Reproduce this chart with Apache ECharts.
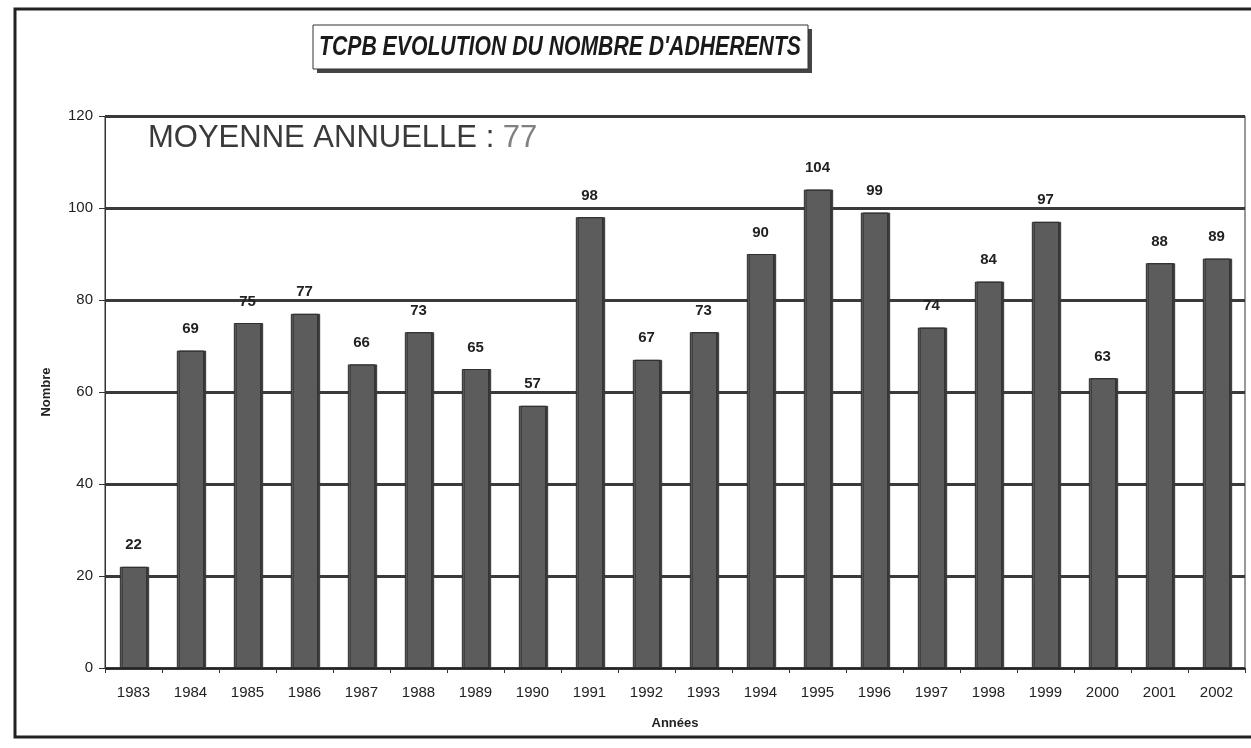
<!DOCTYPE html>
<html><head><meta charset="utf-8">
<script src="https://cdn.jsdelivr.net/npm/echarts@6/dist/echarts.min.js"></script>
<style>html,body{margin:0;padding:0;background:#fff}#c{width:1251px;height:748px}</style>
</head><body><div id="c"></div>
<script>
const years = ['1983','1984','1985','1986','1987','1988','1989','1990','1991','1992','1993','1994','1995','1996','1997','1998','1999','2000','2001','2002'];
const adherents = [22,69,75,77,66,73,65,57,98,67,73,90,104,99,74,84,97,63,88,89];
const yTicks = [0,20,40,60,80,100,120];
const titleText = "TCPB EVOLUTION DU NOMBRE D'ADHERENTS";
const avgLabel = 'MOYENNE ANNUELLE : ';
const avgValue = '77';

const chart = echarts.init(document.getElementById('c'));
chart.setOption({
  animation:false,
  backgroundColor:'#fff',
  graphic:[
    {type:'rect', shape:{x:15,y:9,width:1300,height:728}, style:{fill:null, stroke:'#222', lineWidth:3}, z:-1},
    {type:'rect', shape:{x:317,y:29,width:495,height:44}, style:{fill:'#444'}, z:1},
    {type:'rect', shape:{x:313,y:25,width:495,height:44}, style:{fill:'#fff', stroke:'#333', lineWidth:1}, z:2},
    {type:'text', x:560, y:48, scaleX:0.785, z:3, style:{text:titleText, align:'center', verticalAlign:'middle',
      fontFamily:'Liberation Sans, Arial', fontStyle:'italic', fontWeight:'bold', fontSize:27, fill:'#1a1a1a'}},
    {type:'text', left:148, top:123, style:{
      text:'{a|'+avgLabel+'}{b|'+avgValue+'}',
      rich:{a:{fontFamily:'Liberation Sans, Arial', fontSize:31, fill:'#3a3a3a'}, b:{fontFamily:'Liberation Sans, Arial', fontSize:31, fill:'#808080'}}
    }}
  ],
  grid:{left:105, right:6, top:116, bottom:80, show:true, borderColor:'#333', borderWidth:1},
  xAxis:{
    type:'category', data:years,
    name:'Années', nameLocation:'middle', nameGap:49,
    nameTextStyle:{fontFamily:'Liberation Sans, Arial', fontWeight:'bold', fontSize:13, color:'#222'},
    axisLine:{lineStyle:{color:'#222', width:1}},
    axisTick:{show:true, length:5, lineStyle:{color:'#333'}},
    axisLabel:{fontFamily:'Liberation Sans, Arial', fontSize:15, color:'#222', margin:17}
  },
  yAxis:{
    type:'value', min:0, max:120, interval:20,
    name:'Nombre', nameLocation:'middle', nameGap:52, nameRotate:90,
    nameTextStyle:{fontFamily:'Liberation Sans, Arial', fontWeight:'bold', fontSize:13, color:'#222'},
    axisLine:{show:true, lineStyle:{color:'#333', width:1}},
    axisTick:{show:true, length:6, lineStyle:{color:'#333'}},
    axisLabel:{fontFamily:'Liberation Sans, Arial', fontSize:15, color:'#222', margin:12},
    splitLine:{show:true, lineStyle:{color:'#3a3a3a', width:3}}
  },
  series:[{
    type:'bar', data:adherents, barWidth:'48%',
    itemStyle:{color:'#5c5c5c', borderColor:'#2e2e2e', borderWidth:1,
      shadowColor:'#3a3a3a', shadowOffsetX:2, shadowOffsetY:0, shadowBlur:0},
    label:{show:true, position:'top', distance:14, fontFamily:'Liberation Sans, Arial', fontWeight:'bold', fontSize:15, color:'#222'}
  }]
});
</script></body></html>
